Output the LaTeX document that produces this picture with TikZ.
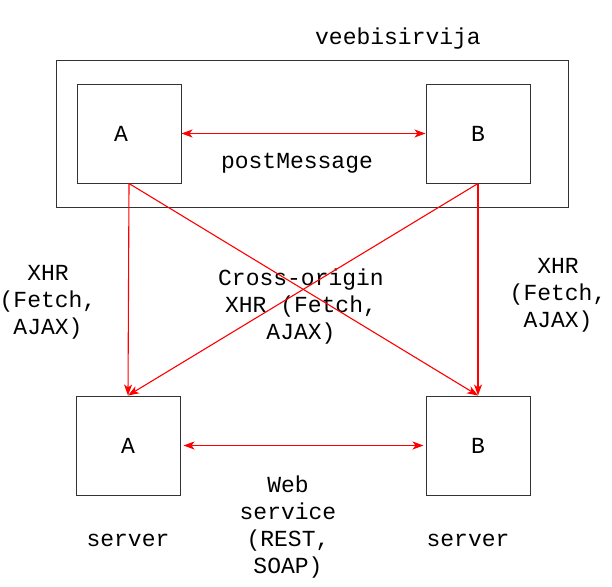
\documentclass[tikz,border=0pt]{standalone}
\usepackage{fontspec}
\setmonofont{Liberation Mono}
\usetikzlibrary{arrows.meta}

\begin{document}
\begin{tikzpicture}[
  x=1pt, y=-1pt,
  font=\ttfamily\fontsize{23}{27}\selectfont,
  appbox/.style={rectangle, draw=black!80, line width=1pt, minimum width=104pt, minimum height=99pt},
  link/.style={draw=red, line width=1.1pt, -{Stealth[length=11pt,width=8pt,inset=3pt]}},
  twoway/.style={draw=red, line width=1.1pt, {Stealth[length=11pt,width=8pt,inset=3pt]}-{Stealth[length=11pt,width=8pt,inset=3pt]}},
  caption/.style={align=center, inner sep=0pt}
]
  \useasboundingbox (0,0) rectangle (612,586);

  % browser
  \node (browser) [rectangle, draw=black!80, line width=1pt, minimum width=512pt, minimum height=147pt] at (312,133.5) {};
  \node (browsertitle) [caption] at (398,39) {veebisirvija};

  \node (brA) [appbox, fill=white] at (129,133.5) {\hspace*{-16pt}A};
  \node (brB) [appbox, fill=white] at (478,133.5) {B};
  \node (postmsg) [caption] at (297,163) {postMessage};

  % servers
  \node (srvA) [appbox] at (128,445.5) {A};
  \node (srvB) [appbox] at (478,445.5) {B};
  \node (srvAtag) [caption] at (128,540) {server};
  \node (srvBtag) [caption] at (468,540) {server};

  \node (xhrA) [caption] at (48,302) {XHR\\(Fetch,\\AJAX)};
  \node (xhrB) [caption] at (558,295) {XHR\\(Fetch,\\AJAX)};
  \node (cors) [caption] at (301,307) {Cross-origin\\XHR (Fetch,\\AJAX)};
  \node (websvc) [caption] at (288,527) {Web\\service\\(REST,\\SOAP)};

  % connectors
  \draw [twoway] (brA) -- (brB);
  \draw [twoway, shorten <=3pt, shorten >=2pt] (srvA) -- (srvB);
  \draw [link] (brA.south) -- (srvA.north);
  \draw [link] (brA.south) -- (srvB.north);
  \draw [link] (brB.south) -- (srvB.north);
  \draw [link] (brB.south) -- (srvA.north);
\end{tikzpicture}
\end{document}
